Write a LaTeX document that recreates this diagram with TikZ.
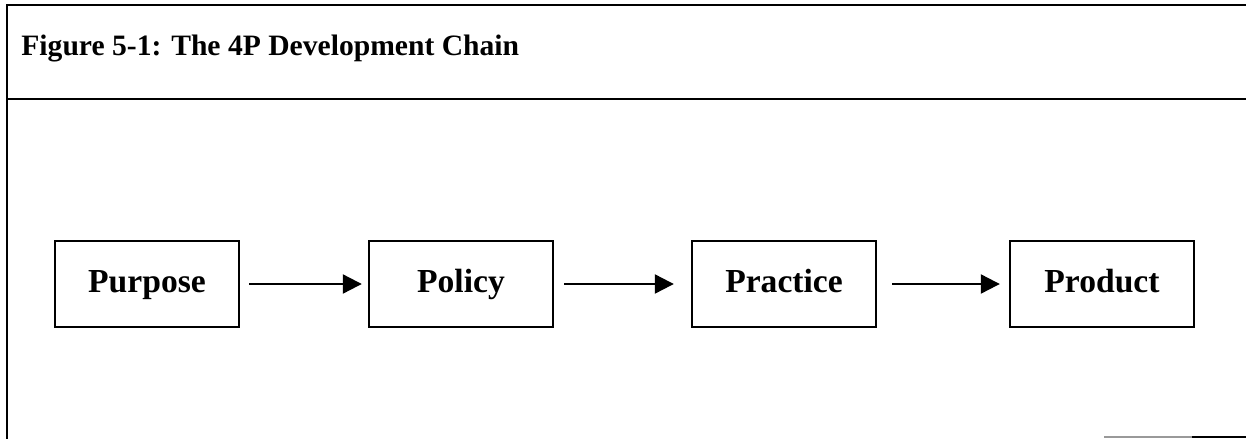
\documentclass[tikz,border=0pt]{standalone}
\usepackage{fontspec}
\setmainfont{Liberation Serif}
\usetikzlibrary{arrows.meta}
\tikzset{
  frameline/.style={line width=1pt, black},
  stagebox/.style={draw, line width=1.2pt, minimum width=92pt, minimum height=43pt, inner sep=0pt, text height=12.5pt, text depth=4pt, font=\fontsize{16.8}{18}\selectfont\bfseries},
  chainarrow/.style={line width=1.1pt, -{Triangle[length=9.5pt,width=9.5pt]}},
}
\begin{document}
\begin{tikzpicture}[x=0.5pt,y=-0.5pt]
\useasboundingbox (0,0) rectangle (1246,439);
% frame
\coordinate (tl) at (7,5);
\coordinate (tr) at (1246,5);
\coordinate (ml) at (7,99);
\coordinate (mr) at (1246,99);
\coordinate (bl) at (7,439);
\draw[frameline] (tr) -- (tl) -- (bl);
\draw[frameline] (ml) -- (mr);
\coordinate (b1) at (1104,437);
\coordinate (b2) at (1192,437);
\coordinate (b3) at (1246,437);
\draw[line width=1pt, black!40] (b1) -- (b2);
\draw[frameline] (b2) -- (b3);
% title
\node[anchor=base west, inner sep=0pt, font=\fontsize{14.8}{16}\selectfont\bfseries] (title) at (21,55) {Figure 5-1: The 4P Development Chain};
% boxes
\node[stagebox] (purpose) at (147,284) {Purpose};
\node[stagebox] (policy) at (461,284) {Policy};
\node[stagebox] (practice) at (784,284) {Practice};
\node[stagebox] (product) at (1102,284) {Product};
% arrows
\draw[chainarrow, shorten <=4.5pt, shorten >=3pt] (purpose.east) -- (policy.west);
\draw[chainarrow, shorten <=5pt, shorten >=8.5pt] (policy.east) -- (practice.west);
\draw[chainarrow, shorten <=7.5pt, shorten >=4.5pt] (practice.east) -- (product.west);
\end{tikzpicture}
\end{document}
